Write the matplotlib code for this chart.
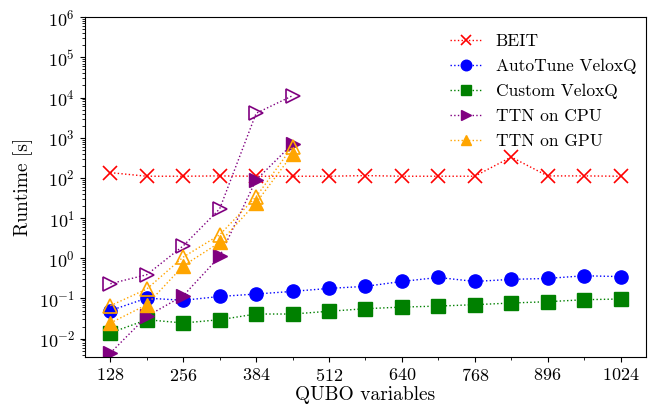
import matplotlib
matplotlib.use("Agg")
import matplotlib.pyplot as plt
from matplotlib.ticker import MultipleLocator, LogLocator, NullFormatter

plt.rcParams['font.family'] = 'serif'
plt.rcParams['font.serif'] = ['cmr10']
plt.rcParams['mathtext.fontset'] = 'cm'
plt.rcParams['axes.formatter.use_mathtext'] = True

n_vars = [128, 192, 256, 320, 384, 448, 512, 576, 640, 704, 768, 832, 896, 960, 1024]
beit = [135, 110, 110, 112, 110, 110, 110, 114, 110, 110, 110, 330, 112, 112, 110]
autotune = [0.050, 0.102, 0.090, 0.112, 0.129, 0.150, 0.178, 0.200, 0.265, 0.333, 0.265, 0.298, 0.315, 0.367, 0.350]
custom = [0.0139, 0.0296, 0.0245, 0.0296, 0.041, 0.041, 0.048, 0.0556, 0.061, 0.0646, 0.070, 0.077, 0.083, 0.093, 0.097]

ttn_vars = [128, 192, 256, 320, 384, 448]
ttn_cpu = [0.0044, 0.036, 0.117, 1.11, 89, 700]
ttn_cpu_open = [0.233, 0.39, 2.04, 17, 4050, 11100]
ttn_gpu = [0.0245, 0.070, 0.65, 2.47, 24, 390]
ttn_gpu_open = [0.066, 0.172, 1.07, 3.84, 34, 600]

fig = plt.figure(figsize=(6.52, 4.18), dpi=100)
ax = fig.add_axes([0.130, 0.146, 0.861, 0.813])

ax.plot(n_vars, beit, ':', color='red', marker='x', ms=9.5, mew=1.2, lw=1, label='BEIT')
ax.plot(n_vars, autotune, ':', color='blue', marker='o', ms=9.5, lw=1, label='AutoTune VeloxQ')
ax.plot(n_vars, custom, ':', color='green', marker='s', ms=9.5, lw=1, label='Custom VeloxQ')
ax.plot(ttn_vars, ttn_cpu, ':', color='purple', marker='>', ms=9.5, lw=1, label='TTN on CPU')
ax.plot(ttn_vars, ttn_cpu_open, ':', color='purple', marker='>', ms=9.5, lw=1, mfc='none', mew=1.2)
ax.plot(ttn_vars, ttn_gpu, ':', color='orange', marker='^', ms=9.5, lw=1, label='TTN on GPU')
ax.plot(ttn_vars, ttn_gpu_open, ':', color='orange', marker='^', ms=9.5, lw=1, mfc='none', mew=1.2)

ax.set_yscale('log')
ax.set_ylim(0.0035, 1e6)
ax.set_xlim(83, 1069)
ax.set_xticks(range(128, 1025, 128))
ax.xaxis.set_minor_locator(MultipleLocator(64))
ax.yaxis.set_major_locator(LogLocator(base=10, numticks=20))
ax.yaxis.set_minor_locator(LogLocator(base=10, subs=range(2, 10), numticks=20))
ax.yaxis.set_minor_formatter(NullFormatter())
ax.tick_params(labelsize=13)

ax.set_xlabel('QUBO variables', fontsize=14, labelpad=2)
ax.set_ylabel('Runtime [s]', fontsize=14)

ax.legend(frameon=False, loc='upper right', fontsize=12.5, markerscale=0.8,
          handlelength=1.8, handletextpad=0.8, labelspacing=0.55,
          bbox_to_anchor=(1.01, 0.997))

fig.savefig('out.png', dpi=100)
